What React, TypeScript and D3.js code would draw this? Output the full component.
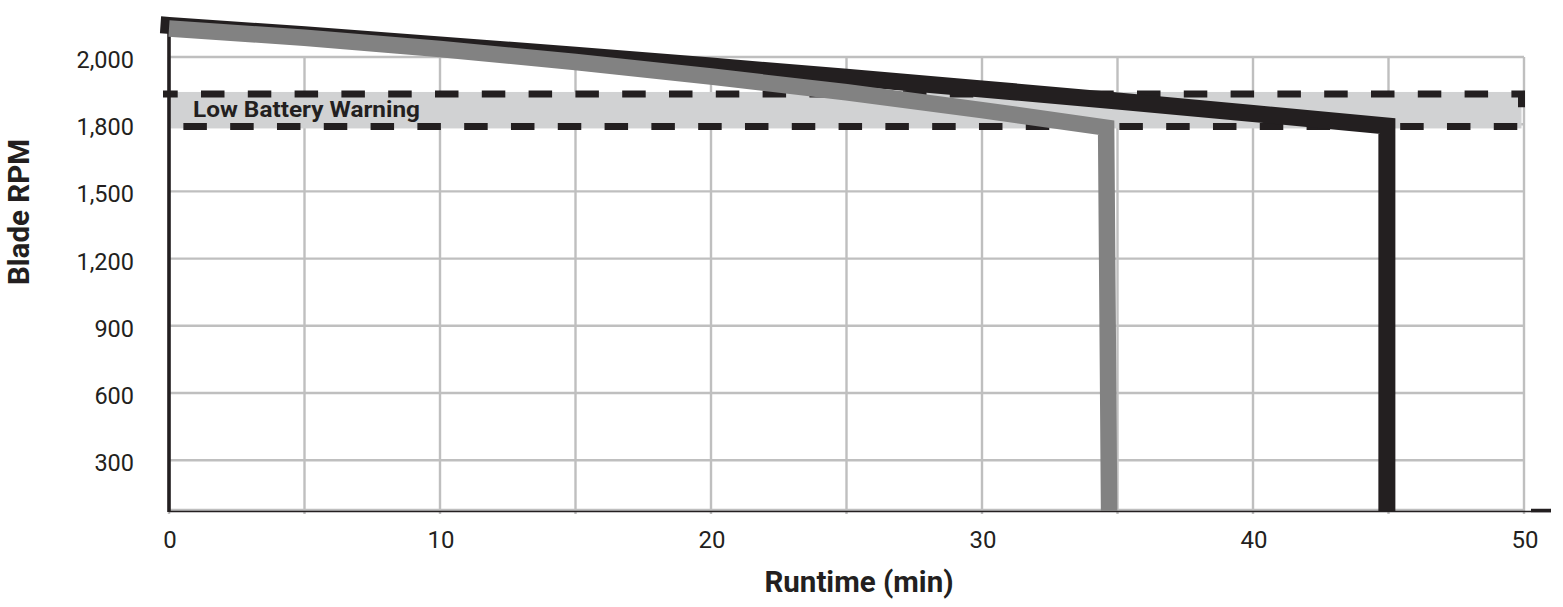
import React from "react";
import * as d3 from "d3";

// ---- data ----
const xTicks = [0, 10, 20, 30, 40, 50];
const xGrid = [0, 5, 10, 15, 20, 25, 30, 35, 40, 45, 50];
const yTicks = [300, 600, 900, 1200, 1500, 1800, 2000];
const yTickLabels = ["300", "600", "900", "1,200", "1,500", "1,800", "2,000"];
const yAxisMin = 72;
const yAxisMax = 2100;

const blackTime = [0, 5, 10, 15, 20, 25, 30, 35, 40, 44.94, 44.94];
const blackRpm = [2094, 2066, 2036, 2005, 1973, 1940, 1905, 1869, 1832, 1792, 72];

const grayTime = [0, 5, 10, 15, 20, 25, 30, 34.58, 34.69];
const grayRpm = [2085, 2057, 2024, 1985, 1942, 1895, 1842, 1785, 72];

const warningLow = 1790;
const warningHigh = 1890;
const warningLabel = "Low Battery Warning";

const W = 1563;
const H = 607;

export default function App() {
  const left = 169;
  const right = 1524;
  const gridTop = 57;
  const step = 67.2;
  const bottom = 511;

  const x = d3.scaleLinear().domain([0, 50]).range([left, right]);
  const yRange = yTicks.map((_, i) => gridTop + (yTicks.length - 1 - i) * step);
  const y = d3
    .scaleLinear()
    .domain([yAxisMin, ...yTicks])
    .range([bottom, ...yRange]);

  const line = d3
    .line<[number, number]>()
    .x((d) => x(d[0]))
    .y((d) => y(d[1]));

  const blackPts = blackTime.map((t, i) => [t, blackRpm[i]] as [number, number]);
  const grayPts = grayTime.map((t, i) => [t, grayRpm[i]] as [number, number]);

  const ink = "#231f20";
  const grid = "#bfbfbf";
  const font = "Roboto, 'Noto Sans', sans-serif";

  const bandTop = y(warningHigh);
  const bandBot = y(warningLow);
  const bandL = left - 6;
  const bandR = right - 2.5;
  const bandPath = `M${bandL},${bandTop}H${bandR}V${bandBot}H${bandL}`;

  return (
    <svg
      width={W}
      height={H}
      style={{ position: "absolute", left: 0, top: 0, background: "#fff" }}
      fontFamily={font}
    >
      <defs>
        <clipPath id="plotClip">
          <rect x={0} y={0} width={W} height={bottom} />
        </clipPath>
      </defs>

      {xGrid.map((t) => (
        <line
          key={"vx" + t}
          x1={x(t)}
          x2={x(t)}
          y1={gridTop}
          y2={bottom + 3}
          stroke={grid}
          strokeWidth={2.4}
        />
      ))}
      {yTicks.map((v) => (
        <line
          key={"hy" + v}
          x1={left}
          x2={right}
          y1={y(v)}
          y2={y(v)}
          stroke={grid}
          strokeWidth={2.4}
        />
      ))}
      <line x1={left} x2={right} y1={bottom - 1} y2={bottom - 1} stroke={grid} strokeWidth={2.4} />

      {/* warning band */}
      <rect x={left} y={bandTop - 2} width={bandR - left} height={bandBot - bandTop + 4} fill="#d1d2d3" />
      <path
        d={bandPath}
        fill="none"
        stroke={ink}
        strokeWidth={7}
        strokeDasharray="23.5 23.3"
        strokeDashoffset={8.8}
      />
      <text
        x={193}
        y={bandTop + 23}
        fontSize={22}
        fontWeight={700}
        fill={ink}
        textLength={227}
        lengthAdjust="spacingAndGlyphs"
      >
        {warningLabel}
      </text>

      <line x1={left} x2={left} y1={y(yAxisMax)} y2={bottom + 1} stroke={ink} strokeWidth={3.6} />
      <line x1={left} x2={1551} y1={bottom + 0.5} y2={bottom + 0.5} stroke={ink} strokeWidth={1.4} />
      <line x1={1531} x2={1551} y1={bottom - 0.5} y2={bottom - 0.5} stroke={ink} strokeWidth={3.5} />

      <g clipPath="url(#plotClip)">
        <path
          d={line(blackPts) || ""}
          fill="none"
          stroke={ink}
          strokeWidth={17}
          strokeLinecap="square"
          strokeLinejoin="miter"
        />
        <path
          d={line(grayPts) || ""}
          fill="none"
          stroke="#828282"
          strokeWidth={16.5}
          strokeLinecap="butt"
          strokeLinejoin="miter"
        />
      </g>

      {yTicks.map((v, i) => (
        <text
          key={"yl" + v}
          x={134}
          y={y(v) + 11}
          textAnchor="end"
          fontSize={23.5}
          fill={ink}
        >
          {yTickLabels[i]}
        </text>
      ))}
      {xTicks.map((t) => (
        <text key={"xl" + t} x={x(t) + 1} y={548} textAnchor="middle" fontSize={24} fill={ink}>
          {t}
        </text>
      ))}

      <text x={859} y={592} textAnchor="middle" fontSize={29.5} fontWeight={700} fill={ink}>
        Runtime (min)
      </text>
      <text
        transform={`translate(29,212) rotate(-90)`}
        textAnchor="middle"
        fontSize={29.5}
        fontWeight={700}
        fill={ink}
      >
        Blade RPM
      </text>
    </svg>
  );
}
